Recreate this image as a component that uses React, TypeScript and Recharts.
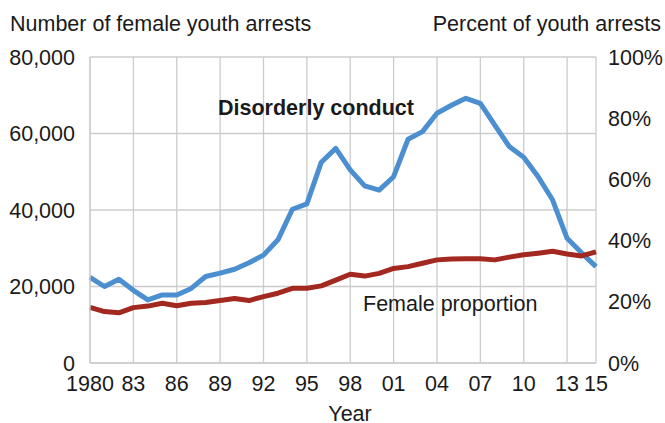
import * as React from 'react';
import { LineChart, Line, XAxis, YAxis, CartesianGrid, Label } from 'recharts';

const years = [
  1980, 1981, 1982, 1983, 1984, 1985, 1986, 1987, 1988, 1989, 1990, 1991,
  1992, 1993, 1994, 1995, 1996, 1997, 1998, 1999, 2000, 2001, 2002, 2003,
  2004, 2005, 2006, 2007, 2008, 2009, 2010, 2011, 2012, 2013, 2014, 2015,
];

// female youth arrests for disorderly conduct (left axis)
const arrests = [
  22400, 20000, 21900, 19000, 16500, 17800, 17800, 19500, 22600, 23500, 24500, 26200,
  28200, 32200, 40200, 41600, 52500, 56100, 50500, 46300, 45200, 48700, 58500, 60500,
  65300, 67400, 69200, 67900, 62200, 56600, 53800, 48700, 42600, 32600, 28800, 25200,
];

// female share of youth arrests, percent (right axis)
const femaleShare = [
  18.2, 16.8, 16.4, 18.1, 18.6, 19.5, 18.7, 19.5, 19.8, 20.4, 21.1, 20.4,
  21.7, 22.8, 24.4, 24.4, 25.2, 27.1, 29.0, 28.4, 29.3, 30.9, 31.5, 32.6,
  33.7, 34.0, 34.1, 34.1, 33.7, 34.6, 35.4, 35.9, 36.5, 35.6, 35.0, 36.3,
];

const yearTicks = [1980, 1983, 1986, 1989, 1992, 1995, 1998, 2001, 2004, 2007, 2010, 2013, 2015];
const countTicks = [0, 20000, 40000, 60000, 80000];
const pctTicks = [0, 20, 40, 60, 80, 100];

const data = years.map((year, i) => ({ year, arrests: arrests[i], share: femaleShare[i] }));

const FONT = '"Liberation Sans", Arial, Helvetica, sans-serif';
const TEXT = '#1a1a1a';
const GRID = '#cccccc';
const FS = 21.5;

const tickStyle = { fontSize: FS, fill: TEXT, fontFamily: FONT };

const formatYear = (v: number) => (v === 1980 ? '1980' : String(v).slice(2));

export default function App() {
  return (
    <div style={{ position: 'absolute', left: 0, top: 0, width: 665, height: 423, fontFamily: FONT, color: TEXT, background: '#fff' }}>
      <LineChart width={665} height={423} data={data} margin={{ top: 57, right: 0, bottom: 0, left: 0 }}>
        <CartesianGrid stroke={GRID} strokeWidth={1.3} yAxisId="count" />
        <XAxis
          dataKey="year"
          type="number"
          domain={[1980, 2015]}
          ticks={yearTicks}
          tickFormatter={formatYear}
          interval={0}
          height={60}
          tickLine={false}
          tickSize={0}
          tickMargin={13}
          axisLine={{ stroke: GRID, strokeWidth: 1.3 }}
          tick={tickStyle}
        >
          <Label value="Year" position="insideBottom" offset={2} dx={7} style={{ fontSize: FS, fill: TEXT, fontFamily: FONT }} />
        </XAxis>
        <YAxis
          yAxisId="count"
          domain={[0, 80000]}
          ticks={countTicks}
          tickFormatter={(v: number) => v.toLocaleString('en-US')}
          width={90}
          tickLine={false}
          tickSize={0}
          tickMargin={15}
          axisLine={{ stroke: GRID, strokeWidth: 1.3 }}
          tick={tickStyle}
        />
        <YAxis
          yAxisId="pct"
          orientation="right"
          domain={[0, 100]}
          ticks={pctTicks}
          tickFormatter={(v: number) => `${v}%`}
          width={69}
          tickLine={false}
          tickSize={0}
          tickMargin={12}
          axisLine={false}
          tick={tickStyle}
        />
        <Line
          yAxisId="count"
          type="linear"
          dataKey="arrests"
          stroke="#4b8fd0"
          strokeWidth={5}
          strokeLinejoin="round"
          dot={false}
          isAnimationActive={false}
        />
        <Line
          yAxisId="pct"
          type="linear"
          dataKey="share"
          stroke="#a3281f"
          strokeWidth={5}
          strokeLinejoin="round"
          dot={false}
          isAnimationActive={false}
        />
      </LineChart>
      <div style={{ position: 'absolute', left: 10, top: 14, fontSize: FS, lineHeight: '21px', whiteSpace: 'nowrap' }}>
        Number of female youth arrests
      </div>
      <div style={{ position: 'absolute', right: 4, top: 14, fontSize: FS, lineHeight: '21px', whiteSpace: 'nowrap' }}>
        Percent of youth arrests
      </div>
      <div style={{ position: 'absolute', left: 218, top: 98, fontSize: FS, lineHeight: '21px', fontWeight: 'bold', whiteSpace: 'nowrap' }}>
        Disorderly conduct
      </div>
      <div style={{ position: 'absolute', left: 363, top: 294, fontSize: FS, lineHeight: '21px', whiteSpace: 'nowrap' }}>
        Female proportion
      </div>
    </div>
  );
}
